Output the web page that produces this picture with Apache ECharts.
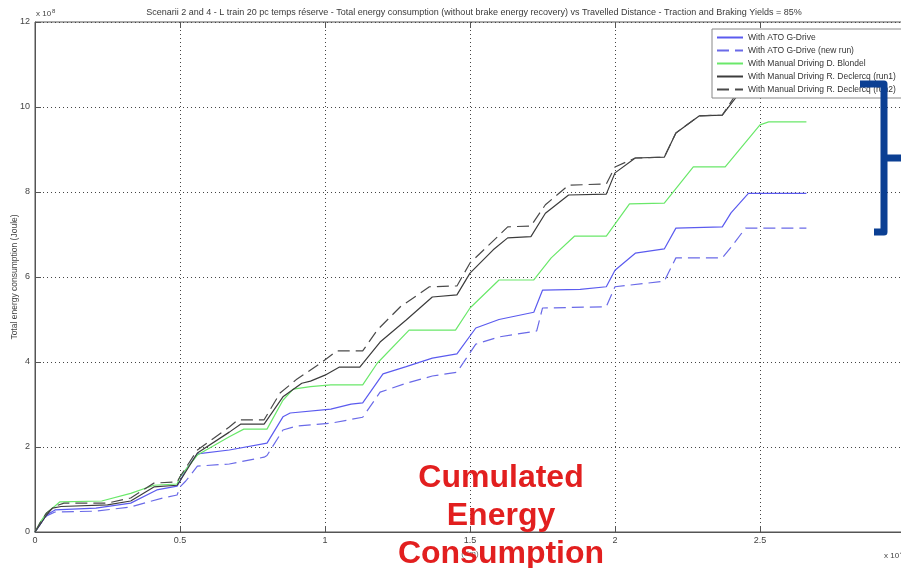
<!DOCTYPE html>
<html>
<head>
<meta charset="utf-8">
<script src="https://cdn.jsdelivr.net/npm/echarts@6/dist/echarts.min.js"></script>
<style>
  html, body { margin: 0; padding: 0; background: #fff; }
  #chart { width: 901px; height: 568px; }
</style>
</head>
<body>
<div id="chart"></div>
<script>
// Cumulated energy vs travelled distance; x in 10^4 m, y in 10^8 J
const xTicks = [0, 0.5, 1, 1.5, 2, 2.5, 3];
const yTicks = [0, 2, 4, 6, 8, 10, 12];

const seriesNames = [
  'With ATO G-Drive',
  'With ATO G-Drive (new run)',
  'With Manual Driving D. Blondel',
  'With Manual Driving R. Declercq (run1)',
  'With Manual Driving R. Declercq (run2)'
];

const atoGDrive = [
  [0,0],[0.02,0.2],[0.04,0.4],[0.069,0.52],[0.21,0.56],[0.33,0.68],[0.42,0.99],[0.49,1.08],
  [0.5,1.2],[0.52,1.46],[0.56,1.84],[0.67,1.93],[0.8,2.09],[0.855,2.71],[0.88,2.8],[1.02,2.89],
  [1.09,3.01],[1.13,3.04],[1.2,3.72],[1.28,3.89],[1.37,4.09],[1.455,4.19],[1.52,4.8],[1.6,5.0],
  [1.72,5.17],[1.75,5.69],[1.88,5.71],[1.97,5.77],[2.0,6.16],[2.07,6.56],[2.17,6.66],[2.21,7.15],
  [2.37,7.18],[2.4,7.51],[2.46,7.97],[2.66,7.97]
];

const atoGDriveNewRun = [
  [0,0],[0.02,0.2],[0.04,0.38],[0.069,0.47],[0.21,0.49],[0.33,0.59],[0.44,0.8],[0.49,0.87],
  [0.5,1.06],[0.52,1.2],[0.56,1.55],[0.67,1.6],[0.79,1.76],[0.8,1.8],[0.855,2.4],[0.9,2.49],
  [1.02,2.56],[1.13,2.7],[1.19,3.29],[1.28,3.5],[1.37,3.67],[1.455,3.76],[1.52,4.42],[1.6,4.59],
  [1.73,4.73],[1.75,5.27],[1.97,5.3],[2.0,5.77],[2.17,5.9],[2.21,6.45],[2.37,6.45],[2.4,6.7],
  [2.45,7.15],[2.66,7.15]
];

const manualBlondel = [
  [0,0],[0.02,0.25],[0.04,0.45],[0.069,0.61],[0.086,0.71],[0.23,0.73],[0.33,0.91],[0.41,1.1],
  [0.49,1.13],[0.5,1.3],[0.56,1.81],[0.67,2.24],[0.72,2.42],[0.8,2.42],[0.855,3.1],[0.89,3.36],
  [0.95,3.42],[1.02,3.46],[1.13,3.46],[1.18,3.97],[1.29,4.75],[1.45,4.75],[1.5,5.27],[1.6,5.93],
  [1.72,5.93],[1.78,6.45],[1.86,6.96],[1.97,6.96],[2.05,7.72],[2.17,7.74],[2.27,8.59],[2.38,8.59],
  [2.5,9.58],[2.53,9.65],[2.66,9.65]
];

const manualDeclercqRun1 = [
  [0,0],[0.02,0.2],[0.04,0.4],[0.06,0.56],[0.09,0.6],[0.25,0.64],[0.33,0.73],[0.41,1.06],
  [0.49,1.1],[0.5,1.2],[0.56,1.86],[0.67,2.35],[0.71,2.54],[0.79,2.54],[0.855,3.18],[0.92,3.5],
  [0.95,3.55],[1.0,3.69],[1.05,3.88],[1.12,3.88],[1.19,4.47],[1.28,4.99],[1.37,5.53],[1.455,5.58],
  [1.5,6.09],[1.58,6.64],[1.63,6.92],[1.71,6.95],[1.76,7.5],[1.84,7.93],[1.97,7.95],[2.0,8.45],
  [2.07,8.8],[2.17,8.82],[2.21,9.39],[2.29,9.79],[2.37,9.81],[2.41,10.16],[2.46,10.6],[2.52,10.95],
  [2.66,10.95]
];

const manualDeclercqRun2 = [
  [0,0],[0.02,0.25],[0.04,0.45],[0.07,0.61],[0.1,0.68],[0.25,0.68],[0.33,0.8],[0.41,1.15],
  [0.49,1.18],[0.5,1.3],[0.56,1.93],[0.67,2.47],[0.7,2.64],[0.79,2.64],[0.845,3.27],[0.9,3.58],
  [0.99,4.0],[1.04,4.26],[1.13,4.26],[1.18,4.75],[1.26,5.3],[1.36,5.77],[1.455,5.79],[1.5,6.33],
  [1.6,6.98],[1.63,7.18],[1.71,7.2],[1.76,7.7],[1.84,8.16],[1.97,8.19],[2.0,8.59],[2.07,8.8],
  [2.17,8.82],[2.21,9.39],[2.29,9.79],[2.37,9.81],[2.42,10.33],[2.47,10.8],[2.52,11.1],[2.66,11.1]
];

const seriesData = [atoGDrive, atoGDriveNewRun, manualBlondel, manualDeclercqRun1, manualDeclercqRun2];
const seriesColors = ['#5b5bef', '#6a6ae8', '#6ae86a', '#3c3c3c', '#4a4a4a'];
const seriesDash = ['solid', [12, 6], 'solid', 'solid', [12, 6]];

const FONT = 'Liberation Sans, Arial, sans-serif';
const chart = echarts.init(document.getElementById('chart'), null, { renderer: 'canvas' });

const gridLine = { show: true, lineStyle: { color: '#444', type: [1, 3], width: 1 } };

chart.setOption({
  animation: false,
  backgroundColor: '#fff',
  title: {
    text: 'Scenarii 2 and 4 - L train 20 pc temps réserve - Total energy consumption (without brake energy recovery) vs Travelled Distance - Traction and Braking Yields = 85%',
    left: 469, top: 3, textAlign: 'center',
    textStyle: { fontFamily: FONT, fontSize: 9, fontWeight: 'normal', color: '#3a3a3a' }
  },
  grid: {
    left: 35, top: 22, width: 870, height: 510,
    containLabel: false, outerBoundsMode: 'none',
    show: true, borderColor: '#555', borderWidth: 1
  },
  legend: {
    orient: 'vertical', left: 712, top: 29,
    data: seriesNames,
    itemWidth: 26, itemHeight: 8, itemGap: 4,
    padding: [4, 60, 4, 4],
    backgroundColor: '#fff', borderColor: '#888', borderWidth: 1,
    itemStyle: { color: 'rgba(0,0,0,0)', borderWidth: 0, borderColor: 'rgba(0,0,0,0)' },
    textStyle: { fontFamily: FONT, fontSize: 8.5, color: '#333' }
  },
  xAxis: [{
    type: 'value', min: 0, max: 3, interval: 0.5,
    name: '(Km)', nameLocation: 'middle', nameGap: 18, nameMoveOverlap: false,
    nameTextStyle: { fontFamily: FONT, fontSize: 8, color: '#666' },
    axisLine: { show: true, lineStyle: { color: '#555' } },
    axisTick: { show: true, inside: true, length: 6, lineStyle: { color: '#555' } },
    axisLabel: { fontFamily: FONT, fontSize: 9, color: '#444', margin: 4,
      formatter: v => xTicks.includes(v) ? String(v) : '' },
    splitLine: gridLine
  }, {
    type: 'value', min: 0, max: 3, interval: 0.5, position: 'top',
    axisLine: { show: false },
    axisTick: { show: true, inside: true, length: 6, lineStyle: { color: '#555' } },
    axisLabel: { show: false }, splitLine: { show: false }
  }],
  yAxis: {
    type: 'value', min: 0, max: 12, interval: 2,
    name: 'Total energy consumption (Joule)', nameLocation: 'middle', nameGap: 16, nameMoveOverlap: false,
    nameTextStyle: { fontFamily: FONT, fontSize: 8.5, color: '#444' },
    axisLine: { show: true, lineStyle: { color: '#555' } },
    axisTick: { show: true, inside: true, length: 6, lineStyle: { color: '#555' } },
    axisLabel: { fontFamily: FONT, fontSize: 9, color: '#444', margin: 5,
      formatter: v => yTicks.includes(v) ? String(v) : '' },
    splitLine: gridLine
  },
  series: seriesNames.map((name, i) => ({
    name, type: 'line', data: seriesData[i], xAxisIndex: 0,
    symbol: 'none', smooth: false,
    lineStyle: { color: seriesColors[i], width: 1.2, type: seriesDash[i] },
    itemStyle: { color: seriesColors[i] },
    z: 2
  })),
  graphic: [
    // scale exponents
    { type: 'text', left: 36, top: 8, z: 10,
      style: { text: '{a|x 10}{s|8}', rich: {
        a: { fontFamily: FONT, fontSize: 8, fill: '#444' },
        s: { fontFamily: FONT, fontSize: 6, fill: '#444', padding: [0, 0, 6, 1] } } } },
    { type: 'text', left: 884, top: 550, z: 10,
      style: { text: '{a|x 10}{s|4}', rich: {
        a: { fontFamily: FONT, fontSize: 8, fill: '#444' },
        s: { fontFamily: FONT, fontSize: 6, fill: '#444', padding: [0, 0, 6, 1] } } } },
    // brace marking the spread between drivers
    { type: 'polyline', z: 20,
      shape: { points: [[860, 84], [884, 84], [884, 158], [901, 158], [884, 158], [884, 232], [874, 232]] },
      style: { stroke: '#0b3f93', lineWidth: 7, fill: null, lineJoin: 'round' } },
    // caption
    { type: 'text', z: 30, x: 501, y: 459,
      style: { text: 'Cumulated\nEnergy\nConsumption', align: 'center',
        fontFamily: FONT, fontSize: 32, fontWeight: 'bold', fill: '#e21f1f', lineHeight: 38 } }
  ]
});
</script>
</body>
</html>
